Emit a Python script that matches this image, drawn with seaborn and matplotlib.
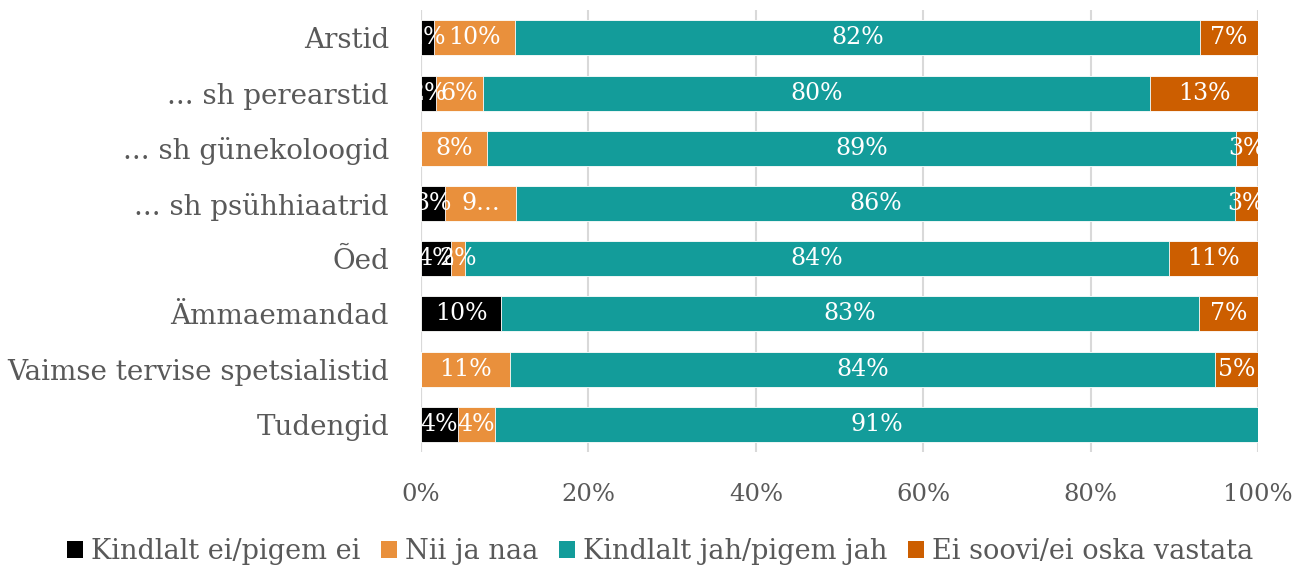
import numpy as np
import pandas as pd
import matplotlib
matplotlib.use("Agg")
import matplotlib.pyplot as plt
from matplotlib.patches import Patch
import seaborn as sns

# data (shares in %, rows top to bottom)
categories = ['Arstid', '... sh perearstid', '... sh günekoloogid', '... sh psühhiaatrid',
              'Õed', 'Ämmaemandad', 'Vaimse tervise spetsialistid', 'Tudengid']
kindlalt_ei = [1.5, 1.8, 0.0, 2.8, 3.6, 9.6, 0.0, 4.4]
nii_ja_naa = [9.7, 5.6, 7.9, 8.6, 1.6, 0.0, 10.6, 4.4]
kindlalt_jah = [81.8, 79.7, 89.4, 85.8, 84.2, 83.3, 84.2, 91.2]
ei_oska = [7.0, 12.9, 2.7, 2.8, 10.6, 7.1, 5.2, 0.0]
series_names = ['Kindlalt ei/pigem ei', 'Nii ja naa', 'Kindlalt jah/pigem jah', 'Ei soovi/ei oska vastata']
colors = ['#000000', '#E9903C', '#139C9A', '#CC5E00']
xticks = [0, 20, 40, 60, 80, 100]

df = pd.DataFrame({'group': categories,
                   series_names[0]: kindlalt_ei,
                   series_names[1]: nii_ja_naa,
                   series_names[2]: kindlalt_jah,
                   series_names[3]: ei_oska})
vals = df[series_names].to_numpy()
cum = vals.cumsum(axis=1)

sns.set_style("white")
plt.rcParams['font.family'] = ['DejaVu Serif', 'DejaVu Sans']

fig = plt.figure(figsize=(12.94, 5.70), dpi=100)
ax = fig.add_axes([0.3254, 0.207, 0.6469, 0.775])

# stacked bars: draw cumulative totals from the widest down
for i in reversed(range(4)):
    sns.barplot(x=cum[:, i], y=df['group'], color=colors[i], orient='h', saturation=1,
                width=0.635, edgecolor='white', linewidth=0.6, ax=ax, zorder=3)

# segment labels (clipped to the plot area like the original)
for r in range(len(categories)):
    for i in range(4):
        v = vals[r, i]
        if v < 0.5:
            continue
        lab = f"{round(v):.0f}%"
        if r == 3 and i == 1:
            lab = "9…"
        ax.text(cum[r, i] - v / 2, r, lab, ha='center', va='center',
                color='white', fontsize=17, zorder=5, clip_on=True)

ax.set_xlim(0, 100)
ax.set_ylim(7.5, -0.5)
ax.set_xticks(xticks)
ax.set_xticklabels([f"{t}%" for t in xticks])
ax.set_xlabel('')
ax.set_ylabel('')
ax.grid(axis='x', color='#D9D9D9', linewidth=1.5, zorder=0)
ax.set_axisbelow(True)
for s in ax.spines.values():
    s.set_visible(False)
ax.axvline(0, color='#D9D9D9', linewidth=1.5, zorder=1)
ax.tick_params(axis='x', length=0, labelsize=17.5, colors='#595959', pad=22)
ax.tick_params(axis='y', length=0, labelsize=20, colors='#595959', pad=23)

handles = [Patch(facecolor=c, edgecolor='none') for c in colors]
fig.legend(handles, series_names, loc='center', bbox_to_anchor=(0.51, 0.032), ncol=4,
           frameon=False, fontsize=19.5, handlelength=0.6, handleheight=0.6,
           handletextpad=0.3, columnspacing=0.75, labelcolor='#595959')

fig.savefig('out.png', dpi=100)
